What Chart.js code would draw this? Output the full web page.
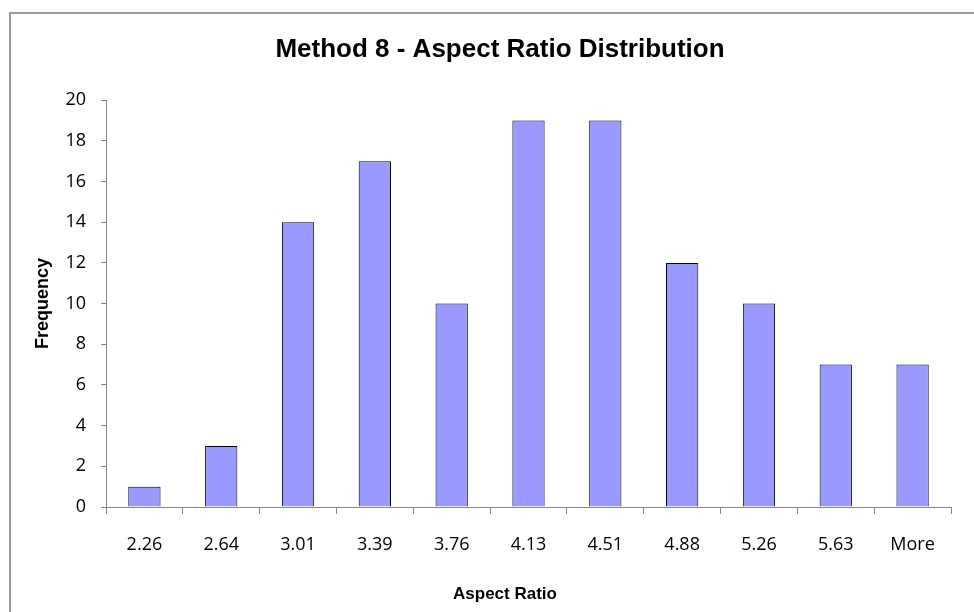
<!DOCTYPE html>
<html>
<head>
<meta charset="utf-8">
<title>Method 8 - Aspect Ratio Distribution</title>
<script src="https://cdn.jsdelivr.net/npm/chart.js@4/dist/chart.umd.min.js"></script>
<style>
  html, body { margin: 0; padding: 0; background: #fff; overflow: hidden; }
  #wrap { position: relative; width: 1000px; height: 612px; }
  #frame {
    position: absolute; left: 9px; top: 12px;
    width: 1100px; height: 800px;
    border: 2px solid #9a9a9a;
  }
  #histogram { position: absolute; left: 0; top: 0; }
</style>
</head>
<body>
<div id="wrap">
  <div id="frame"></div>
  <canvas id="histogram" width="1000" height="612"></canvas>
</div>
<script>
const bins = ['2.26', '2.64', '3.01', '3.39', '3.76', '4.13', '4.51', '4.88', '5.26', '5.63', 'More'];
const frequency = [1, 3, 14, 17, 10, 19, 19, 12, 10, 7, 7];
const yTicks = [0, 2, 4, 6, 8, 10, 12, 14, 16, 18, 20];

const axisGrey = '#868686';

// x axis title is centred on the whole frame, not on the plot
const xTitlePlugin = {
  id: 'xTitle',
  afterDraw(chart) {
    const ctx = chart.ctx;
    ctx.save();
    ctx.font = 'bold 17px "Liberation Sans", Arial, sans-serif';
    ctx.fillStyle = '#000';
    ctx.textAlign = 'center';
    ctx.textBaseline = 'middle';
    ctx.fillText('Aspect Ratio', 505, 594);
    ctx.restore();
  }
};

new Chart(document.getElementById('histogram'), {
  type: 'bar',
  data: {
    labels: bins,
    datasets: [{
      label: 'Frequency',
      data: frequency,
      backgroundColor: '#9999ff',
      borderColor: '#000',
      borderWidth: 1,
      categoryPercentage: 0.42,
      barPercentage: 1
    }]
  },
  options: {
    responsive: false,
    animation: false,
    // equal side padding keeps the main title centred at x=500
    layout: { padding: { left: 49, right: 49, top: 0, bottom: 0 } },
    plugins: {
      legend: { display: false },
      tooltip: { enabled: false },
      title: {
        display: true,
        text: 'Method 8 - Aspect Ratio Distribution',
        color: '#000',
        font: { family: '"Liberation Sans", Arial, sans-serif', size: 26, weight: 'bold', lineHeight: 1.2 },
        padding: { top: 34, bottom: 35 }
      }
    },
    scales: {
      x: {
        afterFit(scale) { scale.height = 105; },
        border: { display: true, color: axisGrey, width: 1 },
        grid: { display: true, drawOnChartArea: false, drawTicks: true, tickLength: 7, color: axisGrey, offset: true },
        ticks: {
          color: '#000',
          padding: 20,
          maxRotation: 0,
          font: { family: '"Open Sans", sans-serif', size: 18 }
        }
      },
      y: {
        min: 0,
        max: 20,
        afterFit(scale) { scale.width = 57; },
        afterBuildTicks(scale) { scale.ticks = yTicks.map(v => ({ value: v })); },
        border: { display: true, color: axisGrey, width: 1 },
        grid: { display: true, drawOnChartArea: false, drawTicks: true, tickLength: 5, color: axisGrey },
        ticks: {
          color: '#000',
          padding: 15,
          font: { family: '"Open Sans", sans-serif', size: 18 }
        },
        title: {
          display: true,
          text: 'Frequency',
          color: '#000',
          font: { family: '"Liberation Sans", Arial, sans-serif', size: 18, weight: 'bold', lineHeight: 1.2 },
          // the title sits left of the axis box, out in the side padding
          padding: { top: -16.8, bottom: 0 }
        }
      }
    }
  },
  plugins: [xTitlePlugin]
});
</script>
</body>
</html>
